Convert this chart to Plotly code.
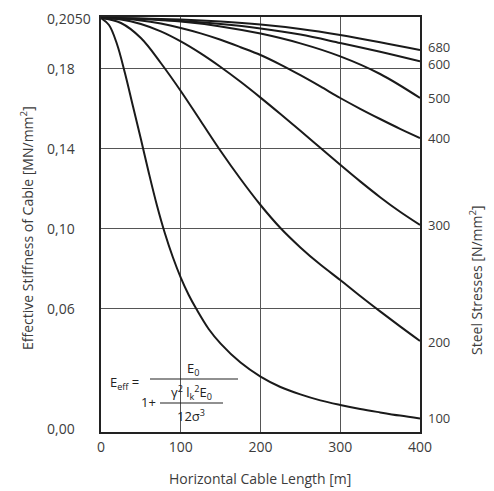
import plotly.graph_objects as go

# ---- data ----
L_100 = [0, 10, 20, 30, 40, 50, 60, 70, 80, 90, 100, 110, 120, 135, 150, 175, 200, 225, 250,
         275, 300, 325, 350, 375, 400]
E_100 = [0.205, 0.2015, 0.192, 0.1775, 0.161, 0.1445, 0.1275, 0.1115, 0.0975, 0.0855, 0.0752,
         0.0665, 0.0592, 0.0495, 0.0422, 0.0327, 0.0257, 0.0205, 0.0168, 0.0138, 0.0115,
         0.0095, 0.0078, 0.0062, 0.0048]

L_mid = [0, 25, 50, 75, 100, 125, 150, 175, 200, 225, 250, 275, 300, 325, 350, 375, 400]
E_200 = [0.205, 0.2025, 0.195, 0.1825, 0.1685, 0.1535, 0.1385, 0.1245, 0.1115, 0.1, 0.0903,
         0.0817, 0.074, 0.066, 0.0583, 0.0508, 0.0435]
E_300 = [0.205, 0.2043, 0.202, 0.1983, 0.1933, 0.1873, 0.1805, 0.1731, 0.1652, 0.157, 0.1486,
         0.1401, 0.1316, 0.1233, 0.1154, 0.1081, 0.1015]
E_400 = [0.205, 0.2047, 0.2038, 0.2022, 0.2, 0.1973, 0.1941, 0.1904, 0.1865, 0.1817, 0.1764,
         0.1708, 0.165, 0.1596, 0.1545, 0.1496, 0.145]

L_coarse = [0, 50, 100, 150, 200, 250, 300, 350, 400]
E_500 = [0.205, 0.2045, 0.2032, 0.2008, 0.1972, 0.1923, 0.1858, 0.177, 0.165]
E_600 = [0.205, 0.2046, 0.2035, 0.202, 0.1998, 0.1967, 0.1925, 0.1881, 0.1833]
E_680 = [0.205, 0.2048, 0.2042, 0.2032, 0.2017, 0.1995, 0.1965, 0.1929, 0.189]

stress_labels = ["680", "600", "500", "400", "300", "200", "100"]
y_ticks = [0.0, 0.06, 0.10, 0.14, 0.18, 0.205]
y_tick_text = ["0,00", "0,06", "0,10", "0,14", "0,18", "0,2050"]
x_ticks = [0, 100, 200, 300, 400]

series = [
    (L_coarse, E_680), (L_coarse, E_600), (L_coarse, E_500), (L_mid, E_400),
    (L_mid, E_300), (L_mid, E_200), (L_100, E_100),
]

# ---- layout geometry (pixels); page body adds an 8px offset ----
OFF = 8
W, H = 494 - OFF, 491 - OFF
PL, PR, PT, PB = 101, 420, 17, 432          # plot area in page pixels
ML, MR, MT, MB = PL - OFF, W + OFF - PR, PT - OFF, H + OFF - PB
PW, PH = PR - PL, PB - PT


def px(xp):
    return (xp - PL) / PW


def py(yp):
    return (PB - yp) / PH


TXT = "#3c3c3c"
FONT = "Open Sans"

fig = go.Figure()
for xs, ys in series:
    fig.add_trace(go.Scatter(x=xs, y=ys, mode="lines",
                             line=dict(color="#1a1a1a", width=2, shape="spline", smoothing=1.0),
                             showlegend=False, hoverinfo="skip"))

annotations = []
for v, t in zip(y_ticks, y_tick_text):
    annotations.append(dict(x=px(45), xref="paper", y=v, yref="y", text=t, showarrow=False,
                            xanchor="left", yanchor="middle", font=dict(family=FONT, size=14, color=TXT)))
shifts = [3, -3, 0, 0, 0, -1, 0]
for (xs, ys), lab, s in zip(series, stress_labels, shifts):
    annotations.append(dict(x=px(427), xref="paper", y=ys[-1], yref="y", text=lab, showarrow=False,
                            xanchor="left", yanchor="middle", yshift=s, borderpad=0,
                            font=dict(family=FONT, size=13, color=TXT)))
annotations.append(dict(x=px(260), y=py(478), xref="paper", yref="paper", showarrow=False,
                        xanchor="center", yanchor="middle",
                        text="Horizontal Cable Length [m]", font=dict(family=FONT, size=14, color=TXT)))
annotations.append(dict(x=px(27), y=py(228), xref="paper", yref="paper", showarrow=False, textangle=-90,
                        xanchor="center", yanchor="middle",
                        text="Effective Stiffness of Cable [MN/mm<sup>2</sup>]",
                        font=dict(family=FONT, size=14, color=TXT)))
annotations.append(dict(x=px(476), y=py(280), xref="paper", yref="paper", showarrow=False, textangle=-90,
                        xanchor="center", yanchor="middle",
                        text="Steel Stresses [N/mm<sup>2</sup>]",
                        font=dict(family=FONT, size=14, color=TXT)))
ff = dict(family=FONT, size=13, color="#222222")
formula = [
    (108, 383, "left", "E<sub>eff</sub> ="),
    (193, 369, "center", "E<sub>0</sub>"),
    (139, 402, "left", "1+"),
    (191, 392, "center", "γ<sup>2</sup> l<sub>k</sub><sup>2</sup>E<sub>0</sub>"),
    (191, 415, "center", "12σ<sup>3</sup>"),
]
for fx, fy, anc, t in formula:
    annotations.append(dict(x=px(fx), y=py(fy), xref="paper", yref="paper", showarrow=False,
                            xanchor=anc, yanchor="middle", text=t, font=ff))

shapes = [
    dict(type="rect", xref="paper", yref="paper", x0=px(106), x1=px(240), y0=py(428), y1=py(358),
         fillcolor="white", line=dict(width=0), layer="between"),
    dict(type="line", xref="paper", yref="paper", x0=px(150), x1=px(238), y0=py(379), y1=py(379),
         line=dict(color="#222222", width=1.2)),
    dict(type="line", xref="paper", yref="paper", x0=px(160), x1=px(223), y0=py(403), y1=py(403),
         line=dict(color="#222222", width=1.2)),
]

fig.update_layout(
    width=W, height=H, margin=dict(l=ML, r=MR, t=MT, b=MB, autoexpand=False),
    paper_bgcolor="white", plot_bgcolor="white",
    annotations=annotations, shapes=shapes,
    xaxis=dict(range=[0, 400], tickvals=x_ticks, ticktext=[str(v) for v in x_ticks],
               showgrid=True, gridcolor="#555555", gridwidth=1,
               showline=True, linecolor="#222222", linewidth=1.5, mirror=True,
               ticks="outside", ticklen=1, tickcolor="rgba(0,0,0,0)",
               tickfont=dict(family=FONT, size=14, color=TXT), zeroline=False),
    yaxis=dict(range=[-0.002, 0.2055], tickvals=[0.06, 0.10, 0.14, 0.18], showticklabels=False,
               showgrid=True, gridcolor="#555555", gridwidth=1,
               showline=True, linecolor="#222222", linewidth=1.5, mirror=True,
               zeroline=False),
)

fig.write_html("out.html")
